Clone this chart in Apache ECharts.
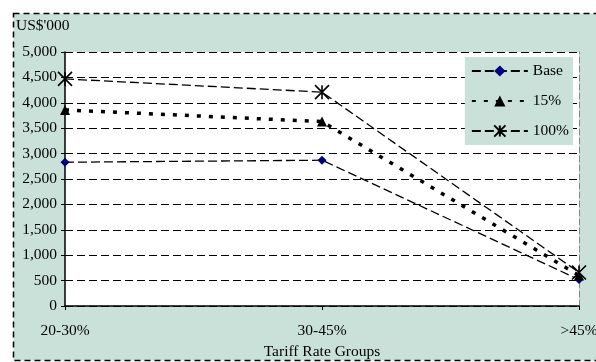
<!DOCTYPE html>
<html><head><meta charset="utf-8">
<script src="https://cdn.jsdelivr.net/npm/echarts@6/dist/echarts.min.js"></script>
<style>html,body{margin:0;padding:0;background:#fff}#c{width:596px;height:362px}</style>
</head><body><div id="c"></div>
<script>
var categories = ['20-30%', '30-45%', '>45%'];
var baseValues = [2830, 2870, 520];
var pct15Values = [3860, 3630, 600];
var pct100Values = [4470, 4210, 660];
var yTicks = { min: 0, max: 5000, interval: 500 };
var yUnit = "US$'000";
var xName = 'Tariff Rate Groups';

var FONT = '"Liberation Serif", "Times New Roman", serif';
var FS = 15.5;
var TEAL = '#C9E1D9';
var chart = echarts.init(document.getElementById('c'));
var star = 'path://M0,0L10,10M10,0L0,10M5,0L5,10';
chart.setOption({
  backgroundColor: '#fff',
  animation: false,
  textStyle: { fontFamily: FONT },
  graphic: [{
    type: 'rect', z: -10, silent: true,
    shape: { x: 13.5, y: 13.5, width: 600, height: 347 },
    style: { fill: TEAL, stroke: '#000', lineWidth: 1.5, lineDash: [6, 4] }
  }, {
    type: 'text', left: 16, top: 18, silent: true,
    style: { text: yUnit, font: FS + 'px ' + FONT, fill: '#000' }
  }],
  grid: { left: 65, right: 17, top: 52, bottom: 56, show: true, backgroundColor: '#fff', borderWidth: 0,
    containLabel: false, outerBoundsMode: 'none' },
  legend: {
    orient: 'vertical', right: 23, top: 57,
    backgroundColor: TEAL, padding: [6, 4, 6, 6],
    itemWidth: 56, itemHeight: 14, itemGap: 14,
    textStyle: { fontFamily: FONT, fontSize: FS, color: '#000' },
    data: ['Base', '15%', '100%']
  },
  xAxis: [{
    type: 'category', data: categories, boundaryGap: false,
    name: xName, nameLocation: 'middle', nameGap: 32,
    nameTextStyle: { fontFamily: FONT, fontSize: FS, color: '#000' },
    axisLine: { lineStyle: { color: '#000', width: 1.5 } },
    axisTick: { show: true, length: 4, lineStyle: { color: '#000' } },
    axisLabel: { fontFamily: FONT, fontSize: FS, color: '#000', margin: 17 },
    splitLine: { show: false }
  }],
  yAxis: [{
    type: 'value', min: yTicks.min, max: yTicks.max, interval: yTicks.interval,
    axisLine: { show: true, lineStyle: { color: '#000', width: 1.5 } },
    axisTick: { show: true, length: 4, inside: false, lineStyle: { color: '#000' } },
    axisLabel: { fontFamily: FONT, fontSize: FS, color: '#000', margin: 8,
      formatter: function (v) { return v.toLocaleString('en-US'); } },
    splitLine: { show: true, lineStyle: { color: '#000', type: [8, 4], width: 1.2 } }
  }, {
    type: 'value', position: 'right', min: yTicks.min, max: yTicks.max, interval: yTicks.interval,
    axisLine: { show: true, lineStyle: { color: '#888', type: [6, 3] } },
    axisTick: { show: false }, axisLabel: { show: false }, splitLine: { show: false }
  }],
  series: [{
    name: 'Base', type: 'line', data: baseValues,
    symbol: 'diamond', symbolSize: 9,
    lineStyle: { color: '#000', width: 1.3, type: [9, 4] },
    itemStyle: { color: '#000080' }
  }, {
    name: '15%', type: 'line', data: pct15Values,
    symbol: 'triangle', symbolSize: 10,
    lineStyle: { color: '#000', width: 3.5, type: [4, 8] },
    itemStyle: { color: '#000' }
  }, {
    name: '100%', type: 'line', data: pct100Values,
    symbol: star, symbolSize: 14,
    lineStyle: { color: '#000', width: 1.3, type: [9, 4] },
    itemStyle: { color: '#000', borderColor: '#000', borderWidth: 1.6 }
  }]
});
</script></body></html>
